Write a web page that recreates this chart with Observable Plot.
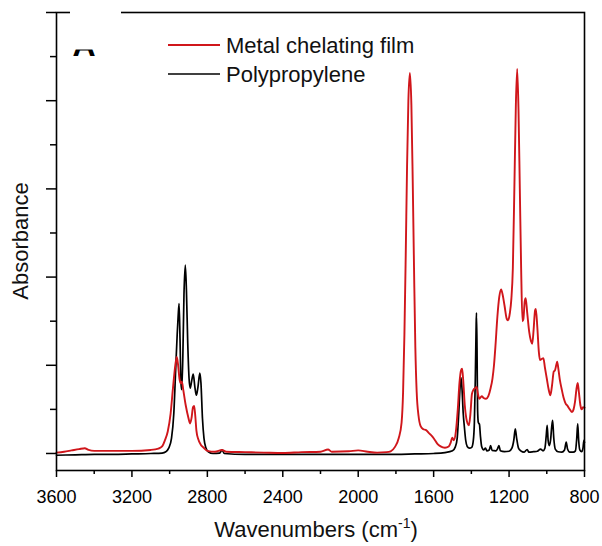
<!DOCTYPE html>
<html><head><meta charset="utf-8">
<script src="https://cdn.jsdelivr.net/npm/d3@7"></script>
<script src="https://cdn.jsdelivr.net/npm/@observablehq/plot@0.6"></script>
<style>
html,body{margin:0;padding:0;background:#fff;}
#chart svg{display:block;}
</style></head><body><div id="chart"></div>
<script>
const seriesNames = ["Metal chelating film", "Polypropylene"];
const seriesColors = ["#d0161b", "#000000"];
const panelLabel = "A";
const yLabel = "Absorbance";
const xLabelMain = "Wavenumbers (cm";
const xLabelSup = "-1";
const xLabelEnd = ")";

const filmWn = [3600,3560,3520,3480,3450,3430,3400,3300,3200,3100,3060,3040,3025,3010,2995,2982,2970,2962,2955,2948,2941,2935,2928,2915,2900,2892,2884,2876,2870,2864,2858,2848,2835,2819,2800,2760,2722,2700,2600,2500,2400,2300,2200,2160,2140,2050,2000,1950,1900,1850,1828,1805,1785,1770,1762,1755,1748,1741,1734,1726,1718,1711,1704,1697,1690,1680,1669,1655,1640,1625,1610,1599,1580,1563,1540,1520,1510,1501,1493,1482,1472,1463,1455,1449,1443,1435,1427,1420,1413,1405,1397,1388,1380,1372,1365,1358,1345,1335,1322,1310,1298,1288,1280,1272,1262,1252,1242,1234,1224,1212,1205,1196,1188,1180,1172,1164,1157,1150,1143,1136,1129,1124,1117,1112,1104,1093,1084,1077,1070,1062,1058,1050,1042,1036,1028,1018,1010,1000,990,981,972,963,957,950,945,938,930,922,910,900,890,878,866,858,850,843,836,830,822,815,808,800];
const filmAbs = [0.002,0.004,0.007,0.010,0.012,0.008,0.006,0.006,0.006,0.008,0.011,0.016,0.03,0.05,0.09,0.15,0.2,0.219,0.2,0.17,0.159,0.163,0.145,0.11,0.08,0.068,0.08,0.105,0.108,0.085,0.052,0.032,0.02,0.013,0.006,0.004,0.008,0.004,0.003,0.002,0.001,0.003,0.004,0.009,0.004,0.005,0.007,0.004,0.002,0.003,0.005,0.015,0.035,0.07,0.14,0.27,0.45,0.65,0.80,0.863,0.79,0.62,0.42,0.24,0.14,0.085,0.062,0.055,0.053,0.046,0.04,0.034,0.022,0.016,0.013,0.016,0.024,0.036,0.03,0.05,0.1,0.16,0.188,0.192,0.165,0.11,0.08,0.068,0.064,0.09,0.135,0.145,0.148,0.151,0.135,0.124,0.13,0.126,0.124,0.13,0.148,0.17,0.2,0.245,0.31,0.355,0.372,0.36,0.335,0.305,0.302,0.318,0.35,0.42,0.6,0.79,0.872,0.78,0.6,0.42,0.3,0.305,0.345,0.352,0.32,0.275,0.255,0.249,0.28,0.325,0.328,0.285,0.23,0.212,0.214,0.216,0.195,0.17,0.145,0.132,0.155,0.186,0.188,0.2,0.208,0.19,0.165,0.148,0.125,0.113,0.108,0.1,0.094,0.1,0.118,0.145,0.16,0.14,0.11,0.1,0.105,0.104];

const ppWn = [3600,3500,3400,3300,3200,3100,3040,3020,3005,2990,2978,2968,2960,2955,2950,2945,2940,2936,2930,2924,2917,2911,2904,2897,2891,2883,2875,2866,2858,2850,2840,2834,2826,2818,2808,2795,2770,2735,2722,2710,2600,2400,2200,2000,1800,1700,1600,1540,1500,1485,1475,1467,1460,1455,1450,1443,1437,1430,1422,1410,1398,1390,1384,1379,1375,1373,1370,1367,1363,1357,1352,1345,1335,1325,1318,1305,1298,1290,1270,1262,1254,1246,1225,1200,1185,1175,1167,1160,1150,1138,1120,1104,1095,1070,1050,1033,1020,1010,1003,998,993,987,980,974,969,963,955,940,920,906,897,890,878,860,848,841,836,831,825,815,808,803,800];
const ppAbs = [-0.004,-0.003,-0.002,-0.002,-0.001,0.0,0.001,0.004,0.012,0.035,0.09,0.19,0.27,0.31,0.34,0.26,0.16,0.145,0.22,0.36,0.427,0.37,0.25,0.17,0.148,0.165,0.18,0.15,0.132,0.15,0.182,0.16,0.08,0.035,0.013,0.004,0.0,0.001,0.008,0.0,-0.002,-0.002,-0.002,-0.002,-0.002,-0.001,0.0,0.002,0.006,0.015,0.035,0.09,0.15,0.172,0.15,0.09,0.06,0.03,0.016,0.012,0.014,0.028,0.07,0.17,0.28,0.319,0.24,0.1,0.07,0.066,0.04,0.015,0.008,0.012,0.006,0.008,0.018,0.007,0.006,0.01,0.018,0.006,0.004,0.005,0.012,0.03,0.056,0.035,0.012,0.006,0.003,0.009,0.003,0.004,0.005,0.01,0.006,0.012,0.04,0.064,0.03,0.018,0.03,0.06,0.075,0.035,0.01,0.004,0.003,0.008,0.026,0.01,0.003,0.003,0.006,0.035,0.067,0.03,0.008,0.004,0.012,0.03,0.025];

const xMajorTicks = [3600,3200,2800,2400,2000,1600,1200,800];
const xMinorTicks = [3400,3000,2600,2200,1800,1400,1000];
const yMajorTicks = [0,0.2,0.4,0.6,0.8,1.0];
const yMinorTicks = [0.1,0.3,0.5,0.7,0.9];

const film = filmWn.map((w,i)=>({wn:w, abs:filmAbs[i], series:seriesNames[0]}));
const pp = ppWn.map((w,i)=>({wn:w, abs:ppAbs[i], series:seriesNames[1]}));

const FONT = "Liberation Sans, Arial, Helvetica, sans-serif";

const plot = Plot.plot({
  width: 602, height: 546,
  marginLeft: 56, marginRight: 18, marginTop: 12, marginBottom: 76,
  style: {fontFamily: FONT, background: "white", color: "black"},
  x: {domain: [3600, 800]},
  y: {domain: [-0.0386, 1.0]},
  marks: [
    Plot.line(pp, {x:"wn", y:"abs", stroke: seriesColors[1], strokeWidth: 1.7, curve: "monotone-x"}),
    Plot.line(film, {x:"wn", y:"abs", stroke: seriesColors[0], strokeWidth: 1.9, curve: "monotone-x"}),
    Plot.axisX({ticks: xMinorTicks, tickSize: 4, tickFormat: () => "", label: null, strokeWidth: 1.5}),
    Plot.axisX({ticks: xMajorTicks, tickSize: 7, tickPadding: 13, fontSize: 18, tickFormat: d => String(d), label: null, strokeWidth: 1.5}),
    Plot.axisY({ticks: yMinorTicks, tickSize: 6, tickFormat: () => "", label: null, strokeWidth: 1.5}),
    Plot.axisY({ticks: yMajorTicks, tickSize: 10, tickFormat: () => "", label: null, strokeWidth: 1.5}),
    Plot.frame({stroke: "black", strokeWidth: 1.6})
  ]
});

const svg = d3.select(plot);
svg.selectAll("text").attr("font-family", FONT);

// panel label partly covered
svg.append("text").attr("x", 84).attr("y", 56).attr("text-anchor", "middle")
  .attr("font-size", 32).attr("font-weight", "bold").attr("font-family", FONT).attr("fill", "black").text(panelLabel);
svg.append("rect").attr("x", 70).attr("y", 0).attr("width", 51).attr("height", 49.5).attr("fill", "white");

// legend
const legY = [45, 74];
seriesNames.forEach((name, i) => {
  svg.append("line").attr("x1", 168).attr("x2", 220).attr("y1", legY[i]).attr("y2", legY[i])
    .attr("stroke", seriesColors[i]).attr("stroke-width", i === 0 ? 2 : 1.6);
  svg.append("text").attr("x", 226).attr("y", legY[i]).attr("dy", "0.35em").attr("text-anchor", "start")
    .attr("font-size", 22).attr("font-family", FONT).attr("fill", "#111").text(name);
});

// y label
svg.append("text").attr("transform", "translate(28,241) rotate(-90)").attr("text-anchor", "middle")
  .attr("font-size", 22).attr("font-family", FONT).attr("fill", "#111").text(yLabel);

// x label with superscript
const xt = svg.append("text").attr("x", 316).attr("y", 537).attr("text-anchor", "middle")
  .attr("font-size", 22).attr("font-family", FONT).attr("fill", "#111");
xt.append("tspan").text(xLabelMain);
xt.append("tspan").attr("font-size", 14).attr("dy", -9).text(xLabelSup);
xt.append("tspan").attr("dy", 9).text(xLabelEnd);

document.getElementById("chart").appendChild(plot);
</script></body></html>
